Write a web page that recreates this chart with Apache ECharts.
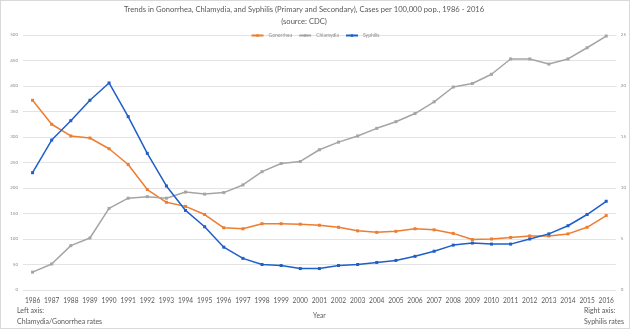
<!DOCTYPE html>
<html>
<head>
<meta charset="utf-8">
<script src="https://cdn.jsdelivr.net/npm/echarts@6/dist/echarts.min.js"></script>
<style>
html,body{margin:0;padding:0;background:#fff;}
#c{width:630px;height:329px;box-sizing:border-box;border:1px solid #d9d9d9;}
</style>
</head>
<body>
<div id="c"></div>
<script>
var years = ['1986','1987','1988','1989','1990','1991','1992','1993','1994','1995','1996','1997','1998','1999','2000','2001','2002','2003','2004','2005','2006','2007','2008','2009','2010','2011','2012','2013','2014','2015','2016'];
var gonorrhea = [372,325,302,298,277,246,197,172,164,148,122,120,130,130,129,127,123,116,113,115,120,118,111,99,100,103,106,106,110,123,146];
var chlamydia = [35,51,87,102,160,180,183,180,192,188,191,206,232,248,252,275,290,302,317,330,346,369,398,405,423,453,453,443,453,475,498];
var syphilis = [11.5,14.7,16.6,18.6,20.3,17.0,13.4,10.2,7.8,6.2,4.2,3.1,2.5,2.4,2.1,2.1,2.4,2.5,2.7,2.9,3.3,3.8,4.4,4.6,4.5,4.5,5.0,5.5,6.3,7.4,8.7];
var leftTicks = [0,50,100,150,200,250,300,350,400,450,500];
var rightTicks = [0,5,10,15,20,25];

var FONT = 'Lato';
var chart = echarts.init(document.getElementById('c'));
function ser(name, data, color, yIdx){
  return {name:name, type:'line', data:data, yAxisIndex:yIdx, symbol:'rect', symbolSize:3,
    lineStyle:{color:color, width:1.5}, itemStyle:{color:color}, animation:false};
}
chart.setOption({
  animation:false,
  textStyle:{fontFamily:FONT},
  title:[
    {text:'Trends in Gonorrhea, Chlamydia, and Syphilis (Primary and Secondary), Cases per 100,000 pop., 1986 - 2016',
     left:303, textAlign:'center', top:5, padding:0,
     textStyle:{fontSize:7.6, fontWeight:'normal', color:'#595959', fontFamily:FONT}},
    {text:'(source: CDC)',
     left:303, textAlign:'center', top:17, padding:0,
     textStyle:{fontSize:7.6, fontWeight:'normal', color:'#595959', fontFamily:FONT}}
  ],
  legend:{top:32, left:'center', padding:0, itemWidth:12, itemHeight:3, itemGap:6,
    textStyle:{fontSize:5, color:'#8c8c8c', fontFamily:FONT},
    data:['Gonorrhea','Chlamydia','Syphilis']},
  grid:{left:22, right:13, top:34, bottom:38},
  xAxis:{type:'category', data:years, boundaryGap:true,
    axisLine:{show:false}, axisTick:{show:false},
    axisLabel:{fontSize:6.6, color:'#595959', margin:7, interval:0, fontFamily:FONT},
    name:'Year', nameLocation:'middle', nameGap:22,
    nameTextStyle:{fontSize:6.6, color:'#595959', fontFamily:FONT}},
  yAxis:[
    {type:'value', min:0, max:500, interval:50,
     axisLine:{show:false}, axisTick:{show:false},
     splitLine:{lineStyle:{color:'#e3e3e3', width:1}},
     axisLabel:{fontSize:4.5, color:'#8c8c8c', margin:5, fontFamily:FONT,
       formatter:function(v){return leftTicks.indexOf(v)>=0 ? String(v) : '';}}},
    {type:'value', min:0, max:25, interval:2.5, position:'right',
     axisLine:{show:false}, axisTick:{show:false}, splitLine:{show:false},
     axisLabel:{fontSize:4.5, color:'#8c8c8c', margin:5, fontFamily:FONT,
       formatter:function(v){return rightTicks.indexOf(v)>=0 ? String(v) : '';}}}
  ],
  graphic:[
    {type:'text', left:16, top:304, style:{text:'Left axis:\nChlamydia/Gonorrhea rates', fontSize:7, fill:'#595959', fontFamily:FONT, lineHeight:11}},
    {type:'text', right:5, top:304, style:{text:'Right axis:\nSyphilis rates', fontSize:7, fill:'#595959', fontFamily:FONT, lineHeight:11, align:'right'}}
  ],
  series:[
    ser('Gonorrhea', gonorrhea, '#ED7D31', 0),
    ser('Chlamydia', chlamydia, '#A5A5A5', 0),
    ser('Syphilis', syphilis, '#1F5FC8', 1)
  ]
});
</script>
</body>
</html>
